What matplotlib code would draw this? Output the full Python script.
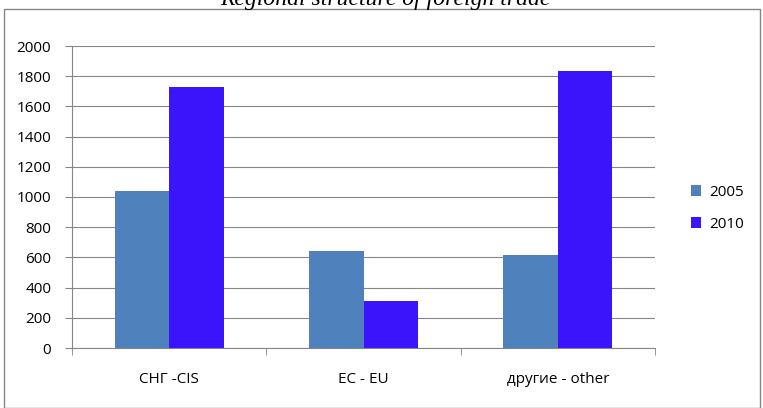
import numpy as np
import matplotlib.pyplot as plt
from matplotlib.patches import Rectangle

# Data
categories = ["СНГ -CIS", "ЕС - EU", "другие - other"]
years = ["2005", "2010"]
values_2005 = [1040, 642, 615]
values_2010 = [1728, 310, 1834]
colors = ["#4f81bd", "#3c14fb"]

W, H = 763, 408
fig = plt.figure(figsize=(W / 100, H / 100), dpi=100)
plt.rcParams["font.family"] = ["Open Sans", "DejaVu Sans"]

# outer chart border
fig.patches.append(Rectangle((4 / W, 0), 756 / W, (H - 9) / H, transform=fig.transFigure,
                             fill=False, edgecolor="#868686", linewidth=1))

# title, partly cut off by the top of the image as in the original
fig.text(385 / W, 1 - 5 / H, "Regional structure of foreign trade", ha="center",
         va="baseline", fontsize=17, family="Liberation Serif", style="italic")

ax = fig.add_axes([72 / W, 1 - 348 / H, 583 / W, 302 / H])

x = np.arange(len(categories))
bw = 0.28
ax.bar(x - bw / 2, values_2005, bw, color=colors[0], label=years[0], zorder=3)
ax.bar(x + bw / 2, values_2010, bw, color=colors[1], label=years[1], zorder=3)

ax.set_xlim(-0.5, len(categories) - 0.5)
ax.set_ylim(0, 2000)
ax.set_yticks(range(0, 2001, 200))
ax.grid(axis="y", color="#868686", linewidth=0.8, zorder=0)

ax.set_xticks(x)
ax.set_xticklabels(categories, fontsize=11)
ax.tick_params(axis="x", length=0, pad=17)
ax.set_xticks(np.arange(-0.5, len(categories), 1), minor=True)
ax.tick_params(axis="x", which="minor", length=5, color="#868686", direction="out")
ax.tick_params(axis="y", length=5, color="#868686", labelsize=11, pad=10)

for s in ["top", "right"]:
    ax.spines[s].set_visible(False)
ax.spines["left"].set_color("#868686")
ax.spines["bottom"].set_color("#868686")

fig.legend(loc="upper left", bbox_to_anchor=(677 / W, 1 - 171 / H), frameon=False,
           fontsize=11, handlelength=0.7, handleheight=0.7, labelspacing=1.1,
           handletextpad=0.5)

fig.savefig("out.png", dpi=100)
